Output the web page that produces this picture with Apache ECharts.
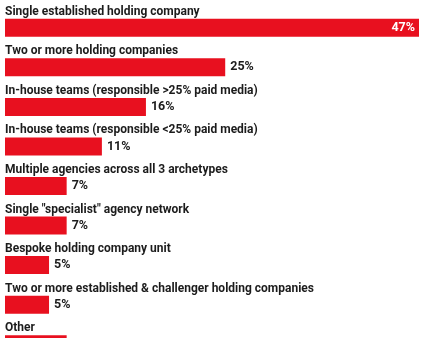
<!DOCTYPE html>
<html>
<head>
<meta charset="utf-8">
<script src="https://cdn.jsdelivr.net/npm/echarts@6/dist/echarts.min.js"></script>
<style>
html,body{margin:0;padding:0;background:#fff;overflow:hidden;width:426px;height:338px;}
#c{width:426px;height:380px;}
</style>
</head>
<body>
<div id="c"></div>
<script>
const categories = [
  'Single established holding company',
  'Two or more holding companies',
  'In-house teams (responsible >25% paid media)',
  'In-house teams (responsible <25% paid media)',
  'Multiple agencies across all 3 archetypes',
  'Single "specialist" agency network',
  'Bespoke holding company unit',
  'Two or more established & challenger holding companies',
  'Other'
];
const values = [47, 25, 16, 11, 7, 7, 5, 5, 7];

const FONT = 'Roboto';
const RED = '#e8101f';
const TXT = '#1c1c1c';

const chart = echarts.init(document.getElementById('c'), null, {renderer: 'canvas'});
chart.setOption({
  animation: false,
  grid: {left: 5, right: 7, top: 8, height: 356, containLabel: false},
  xAxis: {type: 'value', min: 0, max: 47, show: false},
  yAxis: {type: 'category', data: categories, inverse: true, show: false},
  series: [
    {
      type: 'bar',
      data: values.map((v, i) => ({
        value: v,
        label: i === 0 ? {position: 'insideRight', color: '#fff', distance: 4} : {}
      })),
      barWidth: 18,
      itemStyle: {color: RED},
      label: {
        show: true,
        position: 'right',
        distance: 5,
        formatter: p => p.value + '%',
        fontFamily: FONT,
        fontWeight: 'bold',
        fontSize: 12.5,
        color: TXT
      },
      z: 2
    },
    {
      type: 'bar',
      data: values,
      barWidth: 18,
      barGap: '-100%',
      itemStyle: {color: 'rgba(0,0,0,0)'},
      label: {
        show: true,
        position: [0, -7],
        align: 'left',
        verticalAlign: 'middle',
        formatter: p => p.name,
        fontFamily: FONT,
        fontWeight: 'bold',
        fontSize: 12,
        color: TXT
      },
      silent: true,
      z: 3
    }
  ]
});
</script>
</body>
</html>
